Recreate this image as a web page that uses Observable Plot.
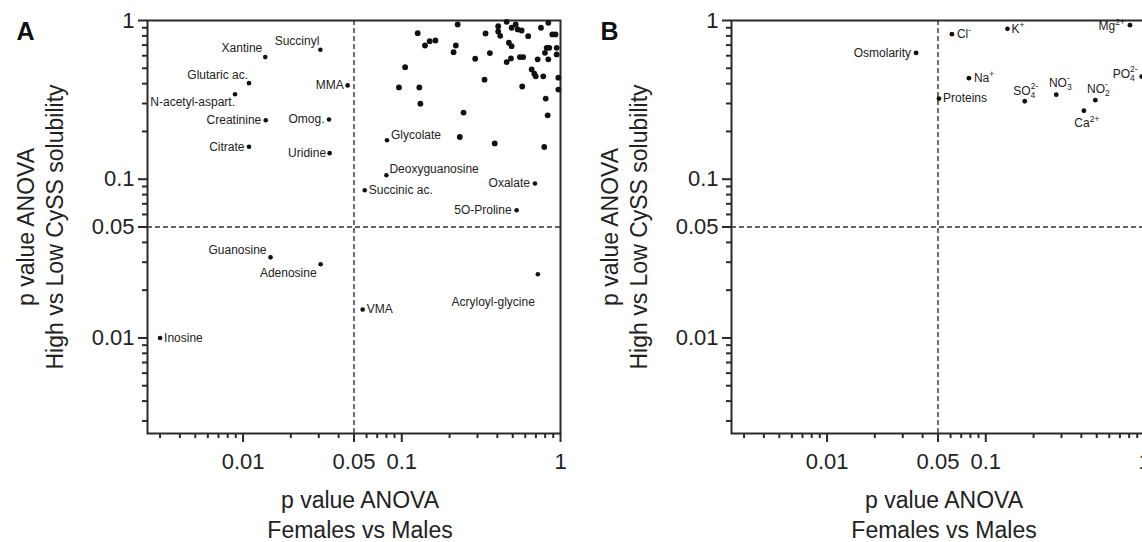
<!DOCTYPE html>
<html><head><meta charset="utf-8">
<script src="https://cdn.jsdelivr.net/npm/d3@7"></script>
<script src="https://cdn.jsdelivr.net/npm/@observablehq/plot@0.6"></script>
<style>
html,body{margin:0;padding:0;background:#fff;}
body{width:1142px;height:542px;overflow:hidden;position:relative;font-family:"Liberation Sans",Arial,sans-serif;}
.panel{position:absolute;top:0;width:571px;height:542px;}
.panel svg{max-width:none !important;}
</style></head><body>
<div id="A" class="panel" style="left:0"></div>
<div id="B" class="panel" style="left:584px"></div>
<script>
// ---------- DATA ----------
// Panel A: labelled metabolites (x = p Females vs Males, y = p High vs Low CySS solubility)
const namesA = ["Xantine","Succinyl","Glutaric ac.","N-acetyl-aspart.","MMA","Creatinine","Omog.","Citrate","Uridine",
  "Guanosine","Adenosine","Inosine","VMA","Acryloyl-glycine","Glycolate","Deoxyguanosine","Succinic ac.","Oxalate","5O-Proline"];
const pSexA = [0.0138,0.0307,0.0109,0.0089,0.0456,0.0139,0.0348,0.0109,0.0351,
  0.0149,0.0308,0.0030,0.0567,0.72,0.0807,0.080,0.0584,0.690,0.529];
const pCySSA = [0.588,0.654,0.403,0.343,0.390,0.235,0.238,0.160,0.146,
  0.0322,0.0291,0.0100,0.0151,0.0252,0.176,0.106,0.0853,0.094,0.0638];
// Panel A: unlabelled metabolites
const pSexOther = [0.126,0.140,0.150,0.163,0.225,0.219,0.212,0.105,0.096,0.129,0.131,0.245,0.337,0.290,0.359,0.332,
  0.405,0.405,0.417,0.232,0.385,0.458,0.492,0.522,0.537,0.569,0.626,0.753,0.838,0.888,0.930,0.473,0.492,0.555,0.582,
  0.487,0.458,0.718,0.798,0.818,0.850,0.946,0.946,0.658,0.684,0.698,0.779,0.969,0.838,0.574,0.969,0.807,0.830,0.790];
const pCySSOther = [0.832,0.696,0.741,0.748,0.944,0.696,0.632,0.508,0.379,0.379,0.299,0.263,0.828,0.574,0.623,0.424,
  0.921,0.853,0.801,0.1845,0.168,0.981,0.900,0.944,0.878,0.865,0.797,0.900,0.967,0.817,0.817,0.724,0.689,0.588,0.588,
  0.577,0.547,0.569,0.626,0.673,0.673,0.673,0.611,0.492,0.462,0.445,0.445,0.436,0.569,0.384,0.367,0.322,0.2525,0.1596];
// Panel B: urine parameters
const namesB = ["Osmolarity","Cl⁻","K⁺","Mg²⁺","Na⁺","Proteins","SO₄²⁻","NO₃⁻","NO₂⁻","Ca²⁺","PO₄²⁻"];
const pSexB = [0.0364,0.0612,0.137,0.81,0.0783,0.0507,0.176,0.278,0.49,0.415,0.96];
const pCySSB = [0.625,0.82,0.886,0.935,0.433,0.322,0.310,0.341,0.315,0.270,0.443];
// Axes
const majorTicks = [0.01, 0.05, 0.1, 1];
const majorTickLabels = ["0.01", "0.05", "0.1", "1"];
const minorTicks = [0.003,0.004,0.005,0.006,0.007,0.008,0.009,0.02,0.03,0.04,0.06,0.07,0.08,0.09,0.2,0.3,0.4,0.5,0.6,0.7,0.8,0.9];
const threshold = [0.05];
const xTitle = "p value ANOVA\nFemales vs Males";
const yTitle = "p value ANOVA\nHigh vs Low CySS solubility";

// ---------- LABEL PLACEMENT (style only) ----------
const placeA = {
  "Xantine":["end",-3,-8.5], "Succinyl":["end",-1,-9], "Glutaric ac.":["end",-1,-8], "N-acetyl-aspart.":["end",0,8],
  "MMA":["end",-4,0], "Creatinine":["end",-4.5,0], "Omog.":["end",-4.5,0], "Citrate":["end",-4.5,0], "Uridine":["end",-3.5,0],
  "Guanosine":["end",-4,-7], "Adenosine":["end",-4,9], "Inosine":["start",4,0], "VMA":["start",4,0],
  "Acryloyl-glycine":["end",-3,28], "Glycolate":["start",4,-5], "Deoxyguanosine":["start",3,-6],
  "Succinic ac.":["start",4,0], "Oxalate":["end",-5,0], "5O-Proline":["end",-5,0]
};
const placeB = {
  "Osmolarity":["end",-5,0], "Cl⁻":["start",5,0], "K⁺":["start",4,0], "Mg²⁺":["end",-5,1], "Na⁺":["start",5,0],
  "Proteins":["start",4,0], "SO₄²⁻":["middle",1,-10.5], "NO₃⁻":["middle",4,-12], "NO₂⁻":["middle",3,-11],
  "Ca²⁺":["middle",3,12.5], "PO₄²⁻":["end",-4,-2]
};

const recA = namesA.map((name,i) => ({name, x: pSexA[i], y: pCySSA[i]}));
const recOther = pSexOther.map((x,i) => ({x, y: pCySSOther[i]}));
const recB = namesB.map((name,i) => ({name, x: pSexB[i], y: pCySSB[i]}));

const INK = "#222";
const W = 571, H = 542, ML = 147, MR = 11, MT = 20, MB = 109;
const FW = W - ML - MR, FH = H - MT - MB;
function panel(letter, labeled, others, place, rLab) {
  const tk = {stroke: "#2a2a2a", strokeWidth: 2};
  return Plot.plot({
    width: W, height: H,
    marginLeft: ML, marginRight: MR, marginTop: MT, marginBottom: MB,
    style: {fontFamily: '"Liberation Sans", Arial, sans-serif', color: INK},
    x: {type: "log", domain: [0.0025, 1], axis: null},
    y: {type: "log", domain: [0.0025, 1], axis: null},
    marks: [
      Plot.ruleX(threshold, {stroke: "#333", strokeWidth: 1.4, strokeDasharray: "5,3"}),
      Plot.ruleY(threshold, {stroke: "#333", strokeWidth: 1.4, strokeDasharray: "5,3"}),
      // x ticks (outward, below frame)
      Plot.ruleX(minorTicks, {x: d => d, insetTop: FH - 5, dy: 5, ...tk}),
      Plot.ruleX(majorTicks, {x: d => d, insetTop: FH - 9, dy: 9, ...tk}),
      // y ticks (outward, left of frame)
      Plot.ruleY(minorTicks, {y: d => d, insetRight: FW - 5, dx: -5, ...tk}),
      Plot.ruleY(majorTicks, {y: d => d, insetRight: FW - 9, dx: -9, ...tk}),
      Plot.frame({stroke: "#2a2a2a", strokeWidth: 2}),
      // tick labels
      Plot.text(majorTicks, {x: d => d, text: (d, i) => majorTickLabels[i], frameAnchor: "bottom", lineAnchor: "top",
        dy: 20, fontSize: 22, fill: INK}),
      Plot.text(majorTicks, {y: d => d, text: (d, i) => majorTickLabels[i], frameAnchor: "left", textAnchor: "end",
        lineAnchor: "middle", dx: -13, fontSize: 22, fill: INK}),
      Plot.dot(others, {x: "x", y: "y", r: 2.9, fill: "#111", stroke: "none"}),
      Plot.dot(labeled, {x: "x", y: "y", r: rLab, fill: "#111", stroke: "none"}),
      ...labeled.map(d => {
        const p = place[d.name];
        return Plot.text([d], {x: "x", y: "y", text: "name", textAnchor: p[0], dx: p[1], dy: p[2], fontSize: 12, fill: INK});
      }),
      Plot.text([letter], {frameAnchor: "top-left", lineAnchor: "middle", dx: -122, dy: 11, fontSize: 25, fontWeight: "bold",
        fill: "#111", textAnchor: "middle"}),
      Plot.text([yTitle], {frameAnchor: "left", lineAnchor: "middle", rotate: -90, dx: -108, fontSize: 23, lineHeight: 1.25,
        fill: INK, textAnchor: "middle"}),
      Plot.text([xTitle], {frameAnchor: "bottom", lineAnchor: "middle", dx: 6, dy: 80, fontSize: 23, lineHeight: 1.3,
        fill: INK, textAnchor: "middle"})
    ]
  });
}

const SUP = {"²":"2","⁺":"+","⁻":"-"};
const SUB = {"₂":"2","₃":"3","₄":"4"};
function chem(svg) {
  const ns = "http://www.w3.org/2000/svg";
  svg.querySelectorAll("text").forEach(el => {
    if (el.querySelector("tspan")) return;
    const s = el.textContent;
    if (![...s].some(c => SUP[c] || SUB[c])) return;
    let base = "", sub = "", sup = "";
    for (const c of s) { if (SUB[c]) sub += SUB[c]; else if (SUP[c]) sup += SUP[c]; else base += c; }
    el.textContent = "";
    const t0 = document.createElementNS(ns, "tspan"); t0.textContent = base; el.appendChild(t0);
    if (sub) {
      const t = document.createElementNS(ns, "tspan");
      t.textContent = sub; t.setAttribute("font-size", "8.5"); t.setAttribute("dy", "3");
      el.appendChild(t);
    }
    if (sup) {
      const t = document.createElementNS(ns, "tspan");
      t.textContent = sup; t.setAttribute("font-size", "8.5");
      if (sub) { t.setAttribute("dx", String(-4.7 * sub.length)); t.setAttribute("dy", "-9"); }
      else t.setAttribute("dy", "-5");
      el.appendChild(t);
    }
  });
}

document.getElementById("A").appendChild(panel("A", recA, recOther, placeA, 2.3));
const svgB = panel("B", recB, [], placeB, 2.4);
chem(svgB);
document.getElementById("B").appendChild(svgB);
</script>
</body></html>
